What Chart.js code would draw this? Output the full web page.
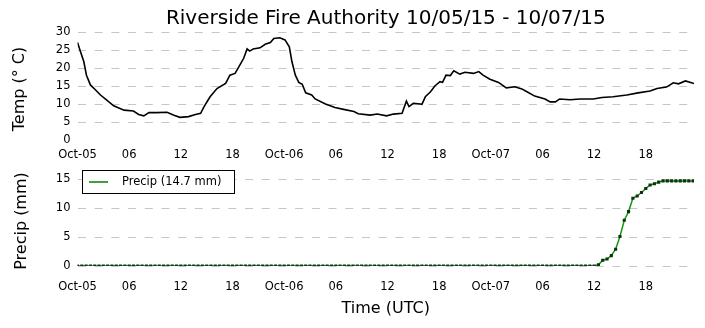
<!DOCTYPE html>
<html>
<head>
<meta charset="utf-8">
<script src="https://cdn.jsdelivr.net/npm/chart.js@4.4.1/dist/chart.umd.min.js"></script>
<style>
  body { margin: 0; background: #fff; }
  #wrap { position: relative; width: 705px; height: 328px; }
  #tempCanvas { position: absolute; left: 0; top: 0; }
  #precipCanvas { position: absolute; left: 0; top: 150px; }
</style>
</head>
<body>
<div id="wrap">
  <canvas id="tempCanvas" width="705" height="165"></canvas>
  <canvas id="precipCanvas" width="705" height="178"></canvas>
</div>
<script>
// Hours since 10/05 00:00 UTC
const xTickHours  = [0, 6, 12, 18, 24, 30, 36, 42, 48, 54, 60, 66];
const xTickLabels = ['Oct-05','06','12','18','Oct-06','06','12','18','Oct-07','06','12','18'];

const tempTicks   = [0, 5, 10, 15, 20, 25, 30];
const precipTicks = [0, 5, 10, 15];

// Temperature readings (deg C)
const tempHours = [
  0, 0.35, 0.73, 1.04, 1.5, 2.1, 2.67, 3.4, 4.2, 5.4, 6.5, 7.1, 7.7, 8.3, 9.2, 10.4,
  11.2, 11.9, 12.9, 13.7, 14.3, 14.7, 15.4, 16.2, 17.2, 17.7, 18.3, 18.9, 19.3, 19.7,
  20.0, 20.4, 21.2, 21.8, 22.4, 22.8, 23.5, 24.1, 24.6, 24.9, 25.3, 25.7, 26.1, 26.5,
  27.2, 27.6, 28.8, 29.9, 30.9, 32.1, 32.6, 34.0, 34.8, 35.9, 36.7, 37.7, 37.9, 38.2,
  38.5, 39.0, 39.8, 40.0, 40.4, 41.0, 41.5, 42.1, 42.4, 42.8, 43.3, 43.7, 44.4, 45.0,
  46.0, 46.6, 47.1, 47.9, 48.9, 49.8, 50.8, 51.6, 52.2, 53.1, 54.3, 54.9, 55.5, 56.0,
  57.2, 58.4, 59.9, 60.9, 62.2, 63.8, 65.1, 66.5, 67.3, 68.4, 69.2, 69.8, 70.6, 71.6
];
const tempValues = [
  27.1, 24.5, 21.8, 18.0, 15.3, 13.9, 12.5, 11.1, 9.5, 8.3, 8.05, 7.1, 6.7, 7.6, 7.6, 7.7,
  6.9, 6.3, 6.5, 7.1, 7.4, 9.3, 12.0, 14.3, 15.7, 18.0, 18.5, 21.0, 22.7, 25.3,
  24.7, 25.3, 25.6, 26.6, 27.1, 28.2, 28.4, 27.8, 25.9, 21.8, 18.0, 16.0, 15.5, 13.1,
  12.5, 11.4, 10.0, 9.0, 8.5, 7.9, 7.3, 6.9, 7.2, 6.7, 7.2, 7.4, 8.8, 10.8,
  9.3, 10.2, 10.0, 9.9, 12.0, 13.4, 15.0, 16.2, 16.0, 18.0, 17.9, 19.2, 18.3, 18.8,
  18.5, 19.0, 18.0, 16.9, 16.0, 14.5, 14.8, 14.2, 13.4, 12.2, 11.4, 10.6, 10.6, 11.4,
  11.2, 11.4, 11.4, 11.8, 12.0, 12.5, 13.1, 13.6, 14.3, 14.7, 15.9, 15.6, 16.4, 15.7
];

// Accumulated precipitation (mm), half-hourly
const precipHours = [
  0, 0.5, 1, 1.5, 2, 2.5, 3, 3.5, 4, 4.5, 5, 5.5,
  6, 6.5, 7, 7.5, 8, 8.5, 9, 9.5, 10, 10.5, 11, 11.5,
  12, 12.5, 13, 13.5, 14, 14.5, 15, 15.5, 16, 16.5, 17, 17.5,
  18, 18.5, 19, 19.5, 20, 20.5, 21, 21.5, 22, 22.5, 23, 23.5,
  24, 24.5, 25, 25.5, 26, 26.5, 27, 27.5, 28, 28.5, 29, 29.5,
  30, 30.5, 31, 31.5, 32, 32.5, 33, 33.5, 34, 34.5, 35, 35.5,
  36, 36.5, 37, 37.5, 38, 38.5, 39, 39.5, 40, 40.5, 41, 41.5,
  42, 42.5, 43, 43.5, 44, 44.5, 45, 45.5, 46, 46.5, 47, 47.5,
  48, 48.5, 49, 49.5, 50, 50.5, 51, 51.5, 52, 52.5, 53, 53.5,
  54, 54.5, 55, 55.5, 56, 56.5, 57, 57.5, 58, 58.5, 59, 59.5,
  60, 60.5, 61, 61.5, 62, 62.5, 63, 63.5, 64, 64.5, 65, 65.5,
  66, 66.5, 67, 67.5, 68, 68.5, 69, 69.5, 70, 70.5, 71, 71.5
];
const precipValues = [
  0, 0, 0, 0, 0, 0, 0, 0, 0, 0, 0, 0,
  0, 0, 0, 0, 0, 0, 0, 0, 0, 0, 0, 0,
  0, 0, 0, 0, 0, 0, 0, 0, 0, 0, 0, 0,
  0, 0, 0, 0, 0, 0, 0, 0, 0, 0, 0, 0,
  0, 0, 0, 0, 0, 0, 0, 0, 0, 0, 0, 0,
  0, 0, 0, 0, 0, 0, 0, 0, 0, 0, 0, 0,
  0, 0, 0, 0, 0, 0, 0, 0, 0, 0, 0, 0,
  0, 0, 0, 0, 0, 0, 0, 0, 0, 0, 0, 0,
  0, 0, 0, 0, 0, 0, 0, 0, 0, 0, 0, 0,
  0, 0, 0, 0, 0, 0, 0, 0, 0, 0, 0, 0,
  0, 0.2, 1.0, 1.2, 1.8, 2.9, 5.1, 7.9, 9.4, 11.7, 12.1, 12.7,
  13.4, 14.0, 14.2, 14.5, 14.7, 14.7, 14.7, 14.7, 14.7, 14.7, 14.7, 14.7
];
const precipTotal = '14.7';

const GRID = '#c6c6c6';
const FONT = "'DejaVu Sans', sans-serif";
Chart.defaults.font.family = FONT;
Chart.defaults.color = '#000';

function xAxis(height, pad, title) {
  return {
    type: 'linear',
    min: 0,
    max: 71.6,
    border: { display: false },
    grid: { display: false, drawTicks: false },
    afterBuildTicks: s => { s.ticks = xTickHours.map(v => ({ value: v })); },
    afterFit: s => { s.height = height; },
    ticks: {
      autoSkip: false, maxRotation: 0, padding: pad,
      font: { size: 11.5 },
      callback: (v, i) => xTickLabels[i]
    },
    title: title
  };
}

function yAxis(ticks, max, hideZero) {
  return {
    min: 0,
    max: max,
    border: { display: false, dash: [8, 8.7] },
    afterBuildTicks: s => { s.ticks = ticks.map(v => ({ value: v })); },
    afterFit: s => { s.width = 77.5; },
    grid: {
      drawTicks: false,
      color: ctx => (hideZero && ctx.tick && ctx.tick.value === 0) ? 'rgba(0,0,0,0)' : GRID,
      lineWidth: 1
    },
    ticks: { padding: 7, font: { size: 11.5 } }
  };
}

// Rotated y-axis label, placed beside the plot
const yLabel = {
  id: 'yLabel',
  afterDraw(chart, args, opts) {
    const ctx = chart.ctx;
    ctx.save();
    ctx.translate(opts.x, opts.y);
    ctx.rotate(-Math.PI / 2);
    ctx.font = '16px ' + FONT;
    ctx.fillStyle = '#000';
    ctx.textAlign = 'center';
    ctx.textBaseline = 'middle';
    ctx.fillText(opts.text, 0, 0);
    ctx.restore();
  }
};

new Chart(document.getElementById('tempCanvas'), {
  type: 'line',
  data: {
    datasets: [{
      data: tempHours.map((h, i) => ({ x: h, y: tempValues[i] })),
      borderColor: '#000',
      borderWidth: 1.6,
      pointRadius: 0,
      tension: 0
    }]
  },
  options: {
    responsive: false,
    animation: false,
    layout: { padding: { left: 0, right: 11, top: 0, bottom: 0 } },
    plugins: {
      legend: { display: false },
      tooltip: { enabled: false },
      title: {
        display: true,
        fullSize: false,
        text: 'Riverside Fire Authority 10/05/15 - 10/07/15',
        font: { size: 20, weight: 'normal' },
        color: '#000',
        padding: { top: 7, bottom: 1 }
      },
      yLabel: { text: 'Temp (° C)', x: 20, y: 89 }
    },
    scales: {
      x: xAxis(25, 8, { display: false }),
      y: yAxis(tempTicks, 30, true)
    }
  },
  plugins: [yLabel]
});

// Boxed legend drawn inside the plot area, upper left
const boxLegend = {
  id: 'boxLegend',
  afterDraw(chart) {
    const ctx = chart.ctx;
    const x = 82.5, y = 20.5, w = 152, h = 23;
    ctx.save();
    ctx.fillStyle = '#fff';
    ctx.fillRect(x, y, w, h);
    ctx.strokeStyle = '#000';
    ctx.lineWidth = 1;
    ctx.strokeRect(x, y, w, h);
    ctx.strokeStyle = '#008000';
    ctx.lineWidth = 1.5;
    ctx.beginPath();
    ctx.moveTo(89, y + 11.5);
    ctx.lineTo(108, y + 11.5);
    ctx.stroke();
    ctx.fillStyle = '#000';
    ctx.font = '11.5px ' + FONT;
    ctx.textBaseline = 'middle';
    ctx.fillText('Precip (' + precipTotal + ' mm)', 122, y + 12);
    ctx.restore();
  }
};

new Chart(document.getElementById('precipCanvas'), {
  type: 'line',
  data: {
    datasets: [{
      data: precipHours.map((h, i) => ({ x: h, y: precipValues[i] })),
      borderColor: '#119911',
      borderWidth: 1.5,
      pointStyle: 'rect',
      pointRadius: 2.2,
      pointBorderWidth: 0,
      pointBackgroundColor: '#0c330c',
      tension: 0
    }]
  },
  options: {
    responsive: false,
    animation: false,
    layout: { padding: { left: 0, right: 11, top: 13.7, bottom: 0 } },
    plugins: {
      legend: { display: false },
      tooltip: { enabled: false },
      yLabel: { text: 'Precip (mm)', x: 22, y: 71 }
    },
    scales: {
      x: xAxis(62, 14, { display: true, text: 'Time (UTC)', font: { size: 16 }, padding: { top: 0, bottom: 10 } }),
      y: yAxis(precipTicks, 17.64, false)
    }
  },
  plugins: [boxLegend, yLabel]
});
</script>
</body>
</html>
